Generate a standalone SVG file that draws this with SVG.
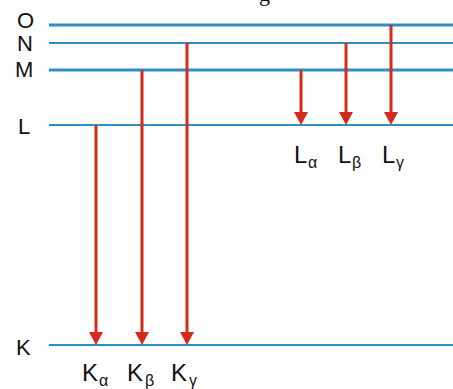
<svg xmlns="http://www.w3.org/2000/svg" width="453" height="389" viewBox="0 0 453 389">
<defs>
<style>
.lvl{stroke:#2f8ec3;fill:none}
.thick{stroke-width:3}
.thin{stroke-width:2}
.arr{stroke:#d42a1c;stroke-width:3;fill:none}
.head{fill:#d42a1c}
.lab{font-family:"Liberation Sans",Arial,sans-serif;font-size:22px;fill:#111}
.big{font-family:"Liberation Sans",Arial,sans-serif;font-size:24px;fill:#111}
.sub{font-family:"Liberation Sans",Arial,sans-serif;font-size:16px;fill:#111}
.title{font-family:"Liberation Serif","Times New Roman",serif;font-size:22px;fill:#111}
</style>
</defs>
<rect width="453" height="389" fill="#ffffff"/>
<text class="title" x="259" y="1">g</text>
<g id="level-O"><line class="lvl thick" x1="49" y1="25" x2="453" y2="25"/><text class="lab" x="17" y="28" font-size="21">O</text></g>
<g id="level-N"><line class="lvl thin" x1="49" y1="43" x2="453" y2="43"/><text class="lab" x="17" y="51" font-size="21">N</text></g>
<g id="level-M"><line class="lvl thick" x1="49" y1="70" x2="453" y2="70"/><text class="lab" x="15" y="77">M</text></g>
<g id="level-L"><line class="lvl thin" x1="49" y1="125" x2="453" y2="125"/><text class="lab" x="18" y="134">L</text></g>
<g id="level-K"><line class="lvl thin" x1="49" y1="345" x2="453" y2="345"/><text class="lab" x="16" y="355">K</text></g>
<g id="connectors">
<line class="arr" x1="96" y1="125" x2="96" y2="333"/><polygon class="head" points="89,332 103,332 96,345"/>
<line class="arr" x1="142" y1="70" x2="142" y2="333"/><polygon class="head" points="135,332 149,332 142,345"/>
<line class="arr" x1="187" y1="43" x2="187" y2="333"/><polygon class="head" points="180,332 194,332 187,345"/>
<line class="arr" x1="301" y1="70" x2="301" y2="113"/><polygon class="head" points="294,112 308,112 301,125"/>
<line class="arr" x1="346" y1="43" x2="346" y2="113"/><polygon class="head" points="339,112 353,112 346,125"/>
<line class="arr" x1="391" y1="25" x2="391" y2="113"/><polygon class="head" points="384,112 398,112 391,125"/>
</g>
<g id="label-Ka"><text class="big" x="82" y="381">K</text><text class="sub" x="99" y="386">α</text></g>
<g id="label-Kb"><text class="big" x="127" y="381">K</text><text class="sub" x="145" y="386">β</text></g>
<g id="label-Kg"><text class="big" x="171" y="381">K</text><text class="sub" x="189" y="386">γ</text></g>
<g id="label-La"><text class="big" x="294" y="163">L</text><text class="sub" x="308" y="168">α</text></g>
<g id="label-Lb"><text class="big" x="338" y="163">L</text><text class="sub" x="352" y="168">β</text></g>
<g id="label-Lg"><text class="big" x="382" y="163">L</text><text class="sub" x="396" y="168">γ</text></g>
</svg>
